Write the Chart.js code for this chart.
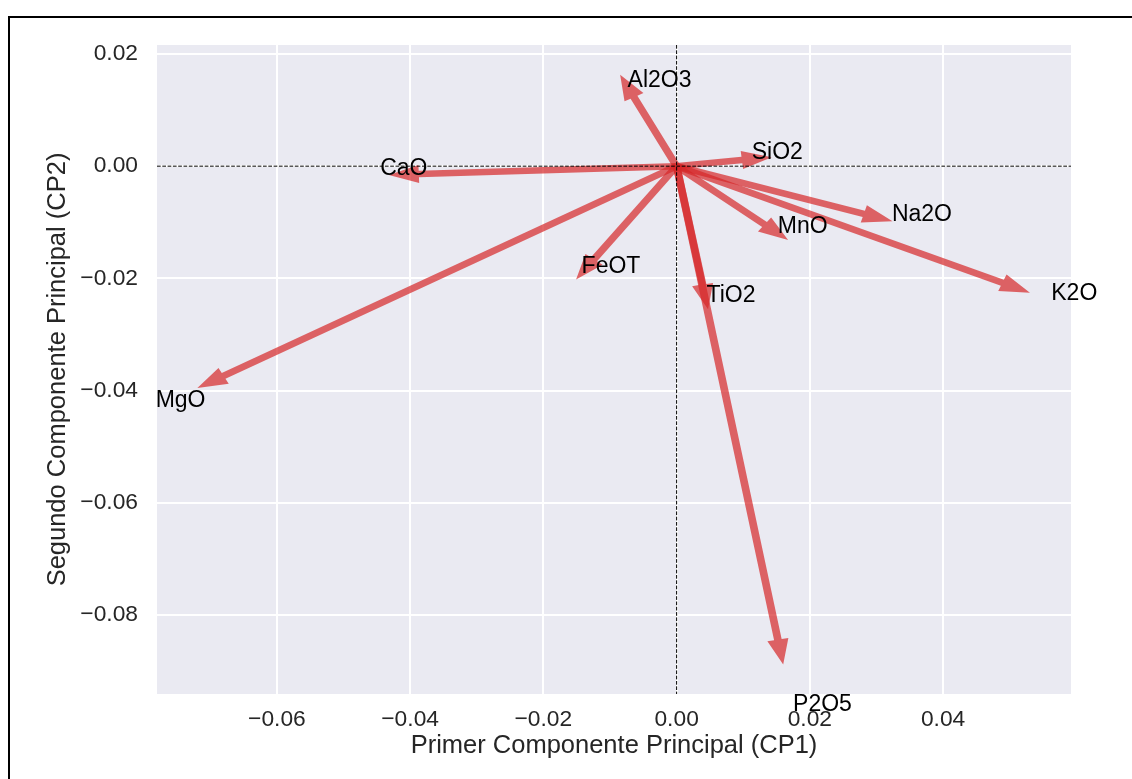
<!DOCTYPE html>
<html>
<head>
<meta charset="utf-8">
<script src="https://cdn.jsdelivr.net/npm/chart.js@4.4.1/dist/chart.umd.min.js"></script>
<style>
  html, body { margin: 0; padding: 0; background: #fff; overflow: hidden; }
  #frame { position: absolute; left: 8px; top: 16px; width: 1300px; height: 1000px; border: 2px solid #000; pointer-events: none; }
  canvas { display: block; }
</style>
</head>
<body>
<canvas id="Chart01" width="1132" height="779"></canvas>
<div id="frame"></div>
<script>
/* Cargas de cada oxido sobre CP1 y CP2 */
const oxides = ['Al2O3', 'SiO2', 'CaO', 'MgO', 'FeOT', 'TiO2', 'MnO', 'Na2O', 'K2O', 'P2O5'];
const cp1 = [-0.0064, 0.0098, -0.0387, -0.0680, -0.0124, 0.0039, 0.0132, 0.0281, 0.0489, 0.0152];
const cp2 = [0.0123, 0.0011, -0.0014, -0.0374, -0.0166, -0.0211, -0.0104, -0.0085, -0.0208, -0.0844];

/* Ticks */
const xTicks = [-0.06, -0.04, -0.02, 0, 0.02, 0.04];
const xTickLabels = ['\u22120.06', '\u22120.04', '\u22120.02', '0.00', '0.02', '0.04'];
const yTicks = [0.02, 0, -0.02, -0.04, -0.06, -0.08];
const yTickLabels = ['0.02', '0.00', '\u22120.02', '\u22120.04', '\u22120.06', '\u22120.08'];

const FONT = "'Liberation Sans', Arial, sans-serif";

// arrow shape in data units (like plt.arrow)
const shaftW = 0.00115;
const headW = 0.0032;
const headL = 0.0045;
const labelScale = 1.15;

const bgPlugin = {
  id: 'bg',
  beforeDraw(chart) {
    const {ctx, chartArea: a} = chart;
    ctx.save();
    ctx.fillStyle = '#EAEAF2';
    ctx.fillRect(a.left, a.top, a.right - a.left, a.bottom - a.top);
    ctx.restore();
  }
};

const arrowPlugin = {
  id: 'arrows',
  afterDatasetsDraw(chart) {
    const {ctx, chartArea: a, scales: {x, y}} = chart;
    const pts = chart.data.datasets[0].data;
    ctx.save();

    // arrows from origin
    ctx.fillStyle = 'rgba(214, 39, 40, 0.7)';
    pts.forEach(p => {
      const d = Math.hypot(p.x, p.y);
      const ux = p.x / d, uy = p.y / d;
      const L = d + headL;
      const shape = [[0, 0], [-headL, -headW / 2], [-headL, -shaftW / 2], [-L, -shaftW / 2],
                     [-L, shaftW / 2], [-headL, shaftW / 2], [-headL, headW / 2]];
      ctx.beginPath();
      shape.forEach(([s, t], i) => {
        const dx = p.x + headL * ux + s * ux - t * uy;
        const dy = p.y + headL * uy + s * uy + t * ux;
        const px = x.getPixelForValue(dx), py = y.getPixelForValue(dy);
        if (i === 0) ctx.moveTo(px, py); else ctx.lineTo(px, py);
      });
      ctx.closePath();
      ctx.fill();
    });

    // dashed lines at zero
    ctx.strokeStyle = '#000';
    ctx.lineWidth = 1;
    ctx.setLineDash([3.7, 1.6]);
    const y0 = y.getPixelForValue(0), x0 = x.getPixelForValue(0);
    ctx.beginPath();
    ctx.moveTo(a.left, y0); ctx.lineTo(a.right, y0);
    ctx.moveTo(x0, a.top); ctx.lineTo(x0, a.bottom);
    ctx.stroke();
    ctx.setLineDash([]);

    // names
    ctx.fillStyle = '#000';
    ctx.font = '23px ' + FONT;
    ctx.textAlign = 'left';
    ctx.textBaseline = 'alphabetic';
    pts.forEach((p, i) => {
      ctx.fillText(oxides[i], x.getPixelForValue(p.x * labelScale), y.getPixelForValue(p.y * labelScale));
    });
    ctx.restore();
  }
};

const config01 = {
  type: 'scatter',
  data: {
    datasets: [{
      label: 'cargas',
      data: cp1.map((v, i) => ({x: v, y: cp2[i]})),
      pointRadius: 0,
      pointHoverRadius: 0
    }]
  },
  options: {
    responsive: false,
    animation: false,
    devicePixelRatio: 1,
    layout: {padding: {left: 0, top: 45, right: 61, bottom: 0}},
    plugins: {legend: {display: false}, tooltip: {enabled: false}},
    scales: {
      x: {
        type: 'linear', min: -0.078, max: 0.0592,
        afterBuildTicks: s => { s.ticks = xTicks.map(v => ({value: v})); },
        afterFit: s => { s.height = 85; },
        grid: {color: '#ffffff', lineWidth: 2, drawTicks: false},
        border: {display: false},
        ticks: {padding: 12.5, color: '#262626', font: {family: FONT, size: 22.8},
                callback: v => xTickLabels[xTicks.indexOf(v)]},
        title: {display: true, text: 'Primer Componente Principal (CP1)', color: '#262626',
                font: {family: FONT, size: 25.5}, padding: {top: 0, bottom: 17.5}}
      },
      y: {
        type: 'linear', min: -0.0941, max: 0.0216,
        afterBuildTicks: s => { s.ticks = yTicks.map(v => ({value: v})); },
        afterFit: s => { s.width = 157; },
        grid: {color: '#ffffff', lineWidth: 2, drawTicks: false},
        border: {display: false},
        ticks: {padding: 19, color: '#262626', font: {family: FONT, size: 22.8},
                callback: v => yTickLabels[yTicks.indexOf(v)]},
        title: {display: true, text: 'Segundo Componente Principal (CP2)', color: '#262626',
                font: {family: FONT, size: 25.5}, padding: {top: 43, bottom: 0}}
      }
    }
  },
  plugins: [bgPlugin, arrowPlugin]
};

const ctxch01 = document.getElementById('Chart01');
new Chart(ctxch01, config01);
</script>
</body>
</html>
